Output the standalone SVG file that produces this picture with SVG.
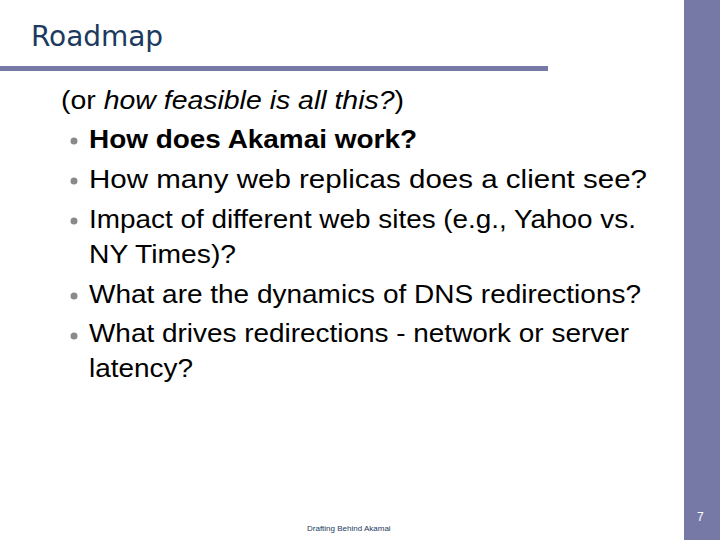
<svg xmlns="http://www.w3.org/2000/svg" width="720" height="540" viewBox="0 0 720 540">
<style>
.b{font-family:"Liberation Sans",Arial,sans-serif;font-size:25px;fill:#000}
.d{fill:#8a8a8a}
</style>
<rect width="720" height="540" fill="#fff"/>
<rect x="684" y="0" width="36" height="540" fill="#7679a5"/>
<rect x="0" y="66" width="548" height="5" fill="#7679a5"/>
<text x="31" y="46" font-family="Tahoma,'DejaVu Sans',sans-serif" font-size="28" fill="#1b3a5e" textLength="132">Roadmap</text>
<text class="b" x="61" y="109" textLength="343" lengthAdjust="spacingAndGlyphs">(or <tspan font-style="italic">how feasible is all this?</tspan>)</text>
<g class="d"><circle cx="74" cy="141" r="3.5"/><circle cx="74" cy="181" r="3.5"/><circle cx="74" cy="221" r="3.5"/><circle cx="74" cy="296" r="3.5"/><circle cx="74" cy="336" r="3.5"/></g>
<text class="b" x="89" y="148" font-weight="bold" textLength="328" lengthAdjust="spacingAndGlyphs">How does Akamai work?</text>
<text class="b" x="89" y="188" textLength="558" lengthAdjust="spacingAndGlyphs">How many web replicas does a client see?</text>
<text class="b" x="89" y="228" textLength="547" lengthAdjust="spacingAndGlyphs">Impact of different web sites (e.g., Yahoo vs.</text>
<text class="b" x="89" y="263" textLength="147" lengthAdjust="spacingAndGlyphs">NY Times)?</text>
<text class="b" x="89" y="303" textLength="552" lengthAdjust="spacingAndGlyphs">What are the dynamics of DNS redirections?</text>
<text class="b" x="89" y="342" textLength="540" lengthAdjust="spacingAndGlyphs">What drives redirections - network or server</text>
<text class="b" x="89" y="377" textLength="104" lengthAdjust="spacingAndGlyphs">latency?</text>
<text x="307" y="531" font-family="'Liberation Sans',sans-serif" font-size="8" fill="#1b3a5e">Drafting Behind Akamai</text>
<text x="697" y="521" font-family="'Liberation Sans',sans-serif" font-size="12" fill="#fff">7</text>
</svg>
